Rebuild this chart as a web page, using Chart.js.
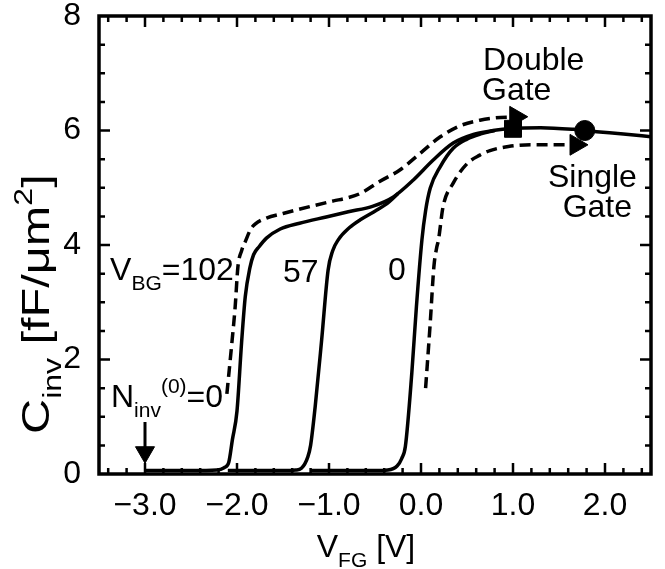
<!DOCTYPE html>
<html>
<head>
<meta charset="utf-8">
<script src="https://cdn.jsdelivr.net/npm/chart.js@4.4.0/dist/chart.umd.min.js"></script>
<style>
  html, body { margin: 0; padding: 0; background: #fff; }
  #wrap { width: 665px; height: 569px; position: relative; }
</style>
</head>
<body>
<div id="wrap"><canvas id="cinv"></canvas></div>
<script>
const xTicks = [-3, -2, -1, 0, 1, 2];
const yTicks = [0, 2, 4, 6, 8];

// solid curves, one per back-gate bias (V_BG = 102, 57, 0)
const vfg102 = [-3.0, -2.5, -2.22, -2.14, -2.09, -2.05, -2.0, -1.95, -1.91, -1.86, -1.82, -1.76, -1.68, -1.53, -1.32, -1.03, -0.79, -0.52, -0.30, -0.08, 0.13, 0.35, 0.57, 0.75, 1.0, 1.3, 1.66, 1.91, 2.2, 2.5];
const cinv102 = [0.06, 0.06, 0.07, 0.11, 0.2, 0.6, 1.1, 2.3, 3.1, 3.6, 3.83, 3.97, 4.12, 4.28, 4.38, 4.49, 4.58, 4.68, 4.84, 5.14, 5.48, 5.78, 5.93, 5.99, 6.04, 6.05, 6.02, 5.98, 5.94, 5.89];

const vfg57 = [-2.1, -1.5, -1.36, -1.3, -1.23, -1.2, -1.15, -1.08, -1.01, -0.96, -0.9, -0.78, -0.66, -0.48, -0.35, -0.25];
const cinv57 = [0.06, 0.06, 0.07, 0.1, 0.3, 0.5, 1.18, 2.34, 3.56, 3.9, 4.09, 4.3, 4.44, 4.61, 4.75, 4.9];

const vfg0 = [-1.2, -0.5, -0.36, -0.26, -0.21, -0.17, -0.10, -0.05, 0.01, 0.05, 0.10, 0.21, 0.35, 0.50, 0.65, 0.8];
const cinv0 = [0.06, 0.06, 0.07, 0.14, 0.27, 0.48, 1.76, 2.92, 4.09, 4.6, 4.99, 5.37, 5.69, 5.85, 5.94, 6.0];

// dashed curves: double gate (upper) and single gate (lower)
const vfgDG = [-2.11, -2.06, -2.02, -1.99, -1.95, -1.91, -1.85, -1.80, -1.68, -1.50, -1.21, -0.95, -0.81, -0.66, -0.45, -0.23, -0.01, 0.21, 0.42, 0.64, 0.80, 1.03];
const cinvDG = [1.40, 2.22, 2.92, 3.62, 3.9, 4.06, 4.28, 4.37, 4.47, 4.55, 4.67, 4.77, 4.82, 4.9, 5.11, 5.31, 5.6, 5.89, 6.08, 6.18, 6.22, 6.24];

const vfgSG = [0.05, 0.10, 0.14, 0.17, 0.19, 0.24, 0.35, 0.50, 0.64, 0.75, 0.95, 1.2, 1.685];
const cinvSG = [1.50, 2.63, 3.62, 3.95, 4.09, 4.67, 5.08, 5.42, 5.57, 5.65, 5.72, 5.75, 5.75];

// marker points on the common curve
const squareAt = [1.0, 6.03];
const circleAt = [1.78, 6.0];

// N_inv(0) = 0 arrow, pointing down at V_FG = -3.0
const arrowX = [-3.0, -3.0];
const arrowY = [0.91, 0.38];

const FONT = '"Liberation Sans", Arial, Helvetica, sans-serif';

const pts = (xs, ys) => xs.map((v, i) => ({ x: v, y: ys[i] }));

const solid = (xs, ys) => ({
  data: pts(xs, ys), showLine: true, borderColor: '#000', borderWidth: 3.5,
  pointRadius: 0, cubicInterpolationMode: 'monotone', fill: false
});

const dashedArrow = (xs, ys) => ({
  data: pts(xs, ys), showLine: true, borderColor: '#000', borderWidth: 3.5,
  borderDash: [11, 6], cubicInterpolationMode: 'monotone', fill: false,
  pointRadius: xs.map((_, i) => (i === xs.length - 1 ? 12 : 0)),
  pointStyle: 'triangle', rotation: 90,
  pointBackgroundColor: '#000', pointBorderColor: '#000', pointBorderWidth: 1
});

// text annotations, placed in data units
const notes = [
  { x: -3.38, y: 3.39, parts: [['V', ''], ['BG', 'sub'], ['=102', '']] },
  { x: -1.50, y: 3.35, parts: [['57', '']] },
  { x: -0.36, y: 3.39, parts: [['0', '']] },
  { x: -3.37, y: 1.17, parts: [['N', ''], ['inv', 'sub'], ['(0)', 'sup'], ['=0', '']] },
  { x: 0.674, y: 7.06, parts: [['Double', '']] },
  { x: 0.663, y: 6.53, parts: [['Gate', '']] },
  { x: 1.38, y: 5.01, parts: [['Single', '']] },
  { x: 1.54, y: 4.49, parts: [['Gate', '']] }
];

function richText(ctx, x, y, parts, size) {
  let cx = x;
  for (const [t, kind] of parts) {
    const s = kind ? Math.round(size * 0.66) : size;
    let dy = 0;
    if (kind === 'sub') dy = size * 0.31;
    if (kind === 'sup') dy = -size * 0.44;
    ctx.font = s + 'px ' + FONT;
    ctx.fillText(t, cx, y + dy);
    cx += ctx.measureText(t).width;
  }
  return cx - x;
}

function textWidth(ctx, parts, size) {
  let w = 0;
  for (const [t, kind] of parts) {
    const s = kind ? Math.round(size * 0.66) : size;
    ctx.font = s + 'px ' + FONT;
    w += ctx.measureText(t).width;
  }
  return w;
}

const framePlugin = {
  id: 'frame',
  afterDraw(chart) {
    const { ctx, chartArea: a, scales: { x, y } } = chart;
    ctx.save();
    ctx.strokeStyle = '#000';
    ctx.fillStyle = '#000';

    // inward ticks on all four sides
    ctx.lineWidth = 2.5;
    ctx.beginPath();
    for (let k = -17; k <= 12; k++) {
      const px = x.getPixelForValue(k / 5);
      if (px <= a.left + 1 || px >= a.right - 1) continue;
      const len = k % 5 === 0 ? 11 : 6;
      ctx.moveTo(px, a.bottom); ctx.lineTo(px, a.bottom - len);
      ctx.moveTo(px, a.top); ctx.lineTo(px, a.top + len);
    }
    for (let k = 1; k < 16; k++) {
      const py = y.getPixelForValue(k / 2);
      const len = k % 4 === 0 ? 11 : 6;
      ctx.moveTo(a.left, py); ctx.lineTo(a.left + len, py);
      ctx.moveTo(a.right, py); ctx.lineTo(a.right - len, py);
    }
    ctx.stroke();

    // frame
    ctx.lineWidth = 3.5;
    ctx.strokeRect(a.left, a.top, a.right - a.left, a.bottom - a.top);

    // annotations
    ctx.textBaseline = 'alphabetic';
    ctx.textAlign = 'left';
    for (const n of notes) {
      richText(ctx, x.getPixelForValue(n.x), y.getPixelForValue(n.y), n.parts, 32);
    }

    // axis titles
    const xt = [['V', ''], ['FG', 'sub'], [' [V]', '']];
    const xw = textWidth(ctx, xt, 32);
    richText(ctx, (a.left + a.right) / 2 - xw / 2 - 9, 557, xt, 32);

    const yt = [['C', ''], ['inv', 'sub'], [' [fF/\u03bcm', ''], ['2', 'sup'], [']', '']];
    ctx.translate(49, 434);
    ctx.rotate(-Math.PI / 2);
    ctx.scale(1.28, 1);
    richText(ctx, 0, 0, yt, 38);
    ctx.restore();
  }
};

new Chart(document.getElementById('cinv'), {
  type: 'scatter',
  data: {
    datasets: [
      solid(vfg102, cinv102),
      solid(vfg57, cinv57),
      solid(vfg0, cinv0),
      dashedArrow(vfgDG, cinvDG),
      dashedArrow(vfgSG, cinvSG),
      {
        data: [{ x: squareAt[0], y: squareAt[1] }], pointStyle: 'rect',
        pointRadius: 12, pointBackgroundColor: '#000', pointBorderColor: '#000'
      },
      {
        data: [{ x: circleAt[0], y: circleAt[1] }], pointStyle: 'circle',
        pointRadius: 10, pointBackgroundColor: '#000', pointBorderColor: '#000'
      },
      {
        data: pts(arrowX, arrowY), showLine: true, borderColor: '#000', borderWidth: 3,
        pointRadius: [0, 11], pointStyle: 'triangle', rotation: 180,
        pointBackgroundColor: '#000', pointBorderColor: '#000', pointBorderWidth: 1
      }
    ]
  },
  options: {
    responsive: true,
    maintainAspectRatio: false,
    animation: false,
    layout: { padding: { top: 16, right: 14, left: 0, bottom: 0 } },
    plugins: { legend: { display: false }, tooltip: { enabled: false } },
    scales: {
      x: {
        type: 'linear', min: -3.5, max: 2.5,
        grid: { display: false, drawTicks: false },
        border: { display: false },
        afterBuildTicks: s => { s.ticks = xTicks.map(v => ({ value: v })); },
        afterFit: s => {
          s.height = 95;
          s.paddingLeft = 0; s.paddingRight = 0; s.paddingTop = 0; s.paddingBottom = 0;
        },
        ticks: {
          padding: 16, color: '#000', maxRotation: 0,
          font: { family: FONT, size: 32, lineHeight: 1 },
          callback: v => v.toFixed(1).replace('-', '\u2212')
        }
      },
      y: {
        type: 'linear', min: 0, max: 8,
        grid: { display: false, drawTicks: false },
        border: { display: false },
        afterBuildTicks: s => { s.ticks = yTicks.map(v => ({ value: v })); },
        afterFit: s => {
          s.width = 99;
          s.paddingLeft = 0; s.paddingRight = 0; s.paddingTop = 0; s.paddingBottom = 0;
        },
        ticks: {
          padding: 18, color: '#000',
          font: { family: FONT, size: 32, lineHeight: 1 },
          callback: v => String(v)
        }
      }
    }
  },
  plugins: [framePlugin]
});
</script>
</body>
</html>
